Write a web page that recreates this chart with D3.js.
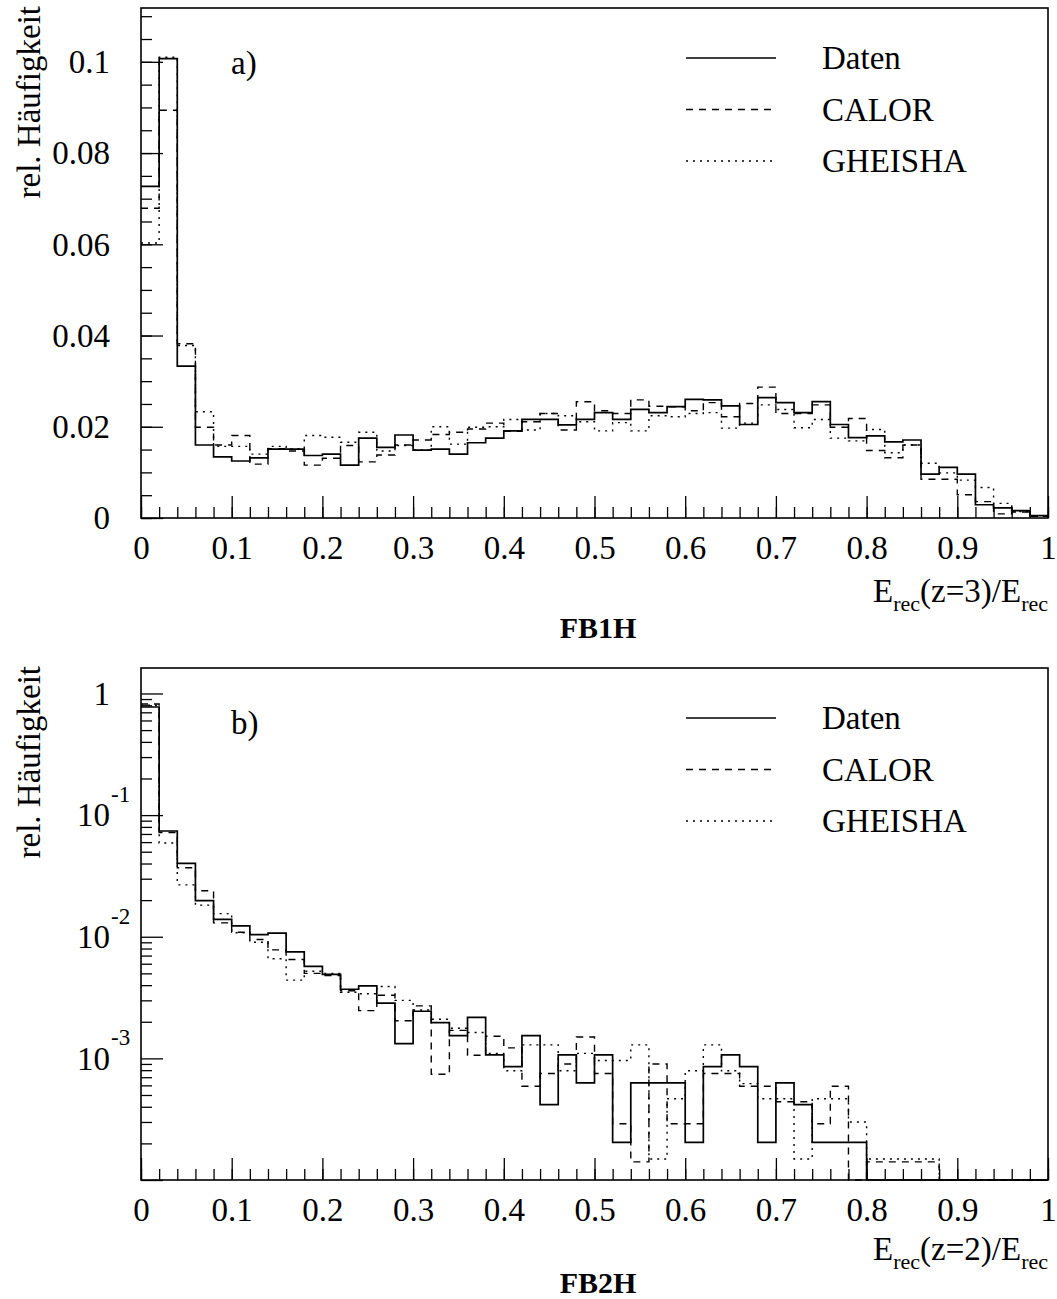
<!DOCTYPE html>
<html>
<head>
<meta charset="utf-8">
<script src="https://cdn.jsdelivr.net/npm/d3@7"></script>
<style>
  html, body { margin: 0; padding: 0; background: #fff; }
  svg { display: block; }
  text { font-family: "Liberation Serif", "DejaVu Serif", serif; fill: #000; }
</style>
</head>
<body>
<svg id="chart" width="1057" height="1299"></svg>
<script>
// ---------- data ----------
const binWidth = 0.02;
const nBins = 50;
const seriesNames = ["Daten", "CALOR", "GHEISHA"];
const xTickLabels = ["0", "0.1", "0.2", "0.3", "0.4", "0.5", "0.6", "0.7", "0.8", "0.9", "1"];
const yTickLabelsA = ["0", "0.02", "0.04", "0.06", "0.08", "0.1"];
const yTickLabelsB = [["1", ""], ["10", "-1"], ["10", "-2"], ["10", "-3"]];

// Panel a) FB1H : E_rec(z=3)/E_rec
const datenA = [0.0727, 0.1007, 0.0333, 0.0160, 0.0134, 0.0125, 0.0132, 0.0151, 0.0151, 0.0137,
                0.0140, 0.0116, 0.0175, 0.0155, 0.0182, 0.0149, 0.0151, 0.0140, 0.0165, 0.0175,
                0.0191, 0.0216, 0.0216, 0.0204, 0.0216, 0.0231, 0.0216, 0.0238, 0.0231, 0.0244,
                0.0260, 0.0259, 0.0246, 0.0205, 0.0264, 0.0253, 0.0231, 0.0255, 0.0205, 0.0176,
                0.0180, 0.0167, 0.0171, 0.0096, 0.0111, 0.0096, 0.0029, 0.0022, 0.0016, 0.0005];
const calorA = [0.0679, 0.0894, 0.0382, 0.0199, 0.0160, 0.0181, 0.0118, 0.0152, 0.0147, 0.0116,
                0.0131, 0.0159, 0.0123, 0.0138, 0.0160, 0.0171, 0.0183, 0.0188, 0.0195, 0.0208,
                0.0190, 0.0211, 0.0229, 0.0193, 0.0255, 0.0235, 0.0229, 0.0259, 0.0245, 0.0244,
                0.0235, 0.0253, 0.0222, 0.0251, 0.0287, 0.0229, 0.0229, 0.0248, 0.0199, 0.0218,
                0.0148, 0.0132, 0.0160, 0.0085, 0.0085, 0.0051, 0.0036, 0.0009, 0.0013, 0.0004];
const gheishaA = [0.0603, 0.1010, 0.0378, 0.0233, 0.0157, 0.0157, 0.0140, 0.0157, 0.0152, 0.0181,
                  0.0177, 0.0166, 0.0188, 0.0147, 0.0159, 0.0149, 0.0200, 0.0162, 0.0199, 0.0200,
                  0.0216, 0.0193, 0.0229, 0.0224, 0.0211, 0.0191, 0.0209, 0.0191, 0.0224, 0.0222,
                  0.0229, 0.0231, 0.0197, 0.0208, 0.0248, 0.0238, 0.0198, 0.0216, 0.0175, 0.0169,
                  0.0194, 0.0143, 0.0160, 0.0120, 0.0099, 0.0083, 0.0067, 0.0032, 0.0014, 0.0004];

// Panel b) FB2H : E_rec(z=2)/E_rec (log scale)
const datenB = [0.774, 0.074, 0.0401, 0.0198, 0.0139, 0.0123, 0.0104, 0.0107, 0.0075, 0.0057,
                0.0049, 0.0037, 0.00395, 0.00285, 0.00132, 0.00244, 0.00197, 0.00154, 0.00217, 0.00107,
                0.000855, 0.00154, 0.000416, 0.00107, 0.00063, 0.00107, 0.000204, 0.00063, 0.00063, 0.00063,
                0.000204, 0.000855, 0.00107, 0.000855, 0.000204, 0.00063, 0.000416, 0.000204, 0.000204, 0.000204,
                0, 0, 0, 0, 0, 0, 0, 0, 0, 0];
const calorB = [0.82, 0.072, 0.0369, 0.0239, 0.0130, 0.0109, 0.0095, 0.0078, 0.0065, 0.0050,
                0.0048, 0.0036, 0.00247, 0.0033, 0.00204, 0.0027, 0.00074, 0.0017, 0.00106, 0.00152,
                0.00122, 0.00059, 0.00075, 0.0009, 0.0015, 0.00075, 0.00029, 0.000141, 0.0009, 0.00029,
                0.00029, 0.00075, 0.00075, 0.00059, 0.00059, 0.00044, 0.00044, 0.00029, 0.00059, 0,
                0.000141, 0.000141, 0.000141, 0.000141, 0, 0, 0, 0, 0, 0];
const gheishaB = [0.80, 0.059, 0.0267, 0.0182, 0.0155, 0.0108, 0.0090, 0.0066, 0.0044, 0.0052,
                  0.0050, 0.0035, 0.0034, 0.0039, 0.0030, 0.0025, 0.0021, 0.00177, 0.00163, 0.0011,
                  0.00079, 0.00129, 0.00129, 0.00079, 0.0011, 0.00096, 0.00096, 0.00129, 0.000149, 0.000465,
                  0.00079, 0.00129, 0.00079, 0.00062, 0.000465, 0.000465, 0.000149, 0.000465, 0.000465, 0.0003,
                  0.000149, 0.000149, 0.000149, 0.000149, 0, 0, 0, 0, 0, 0];

// ---------- drawing ----------
const svg = d3.select("#chart");
const left = 141, right = 1048;
const FS = 33;
const styles = [
  { dash: null, width: 1.7 },
  { dash: "7,6", width: 1.4 },
  { dash: "2,5", width: 1.4 }
];

const x = d3.scaleLinear().domain([0, 1]).range([left, right]);

function stepPoints(values, floor) {
  const pts = [];
  values.forEach((v, i) => {
    const val = Math.max(v, floor);
    pts.push([i * binWidth, val]);
    pts.push([(i + 1) * binWidth, val]);
  });
  return pts;
}

function drawPanel(cfg) {
  const g = svg.append("g");
  const y = cfg.y;
  const [top, bottom] = [cfg.top, cfg.bottom];

  // histograms
  const line = d3.line().x(d => x(d[0])).y(d => y(d[1]));
  [2, 1, 0].forEach(idx => {
    g.append("path")
      .attr("d", line(stepPoints(cfg.series[idx], cfg.floor)))
      .attr("fill", "none")
      .attr("stroke", "#000")
      .attr("stroke-width", styles[idx].width)
      .attr("stroke-dasharray", styles[idx].dash);
  });

  // x ticks (inward)
  const xMinor = d3.range(0, 1.0001, 0.02);
  const xMajor = d3.range(0, 1.0001, 0.1);
  g.append("g").attr("transform", `translate(0,${bottom})`)
    .call(d3.axisBottom(x).tickValues(xMinor).tickSize(-11).tickFormat(""))
    .call(a => a.select(".domain").remove());
  g.append("g").attr("transform", `translate(0,${bottom})`)
    .call(d3.axisBottom(x).tickValues(xMajor).tickSize(-22).tickPadding(18)
      .tickFormat((d, i) => xTickLabels[i]))
    .call(a => a.select(".domain").remove())
    .call(a => a.selectAll("text").attr("font-size", FS).attr("font-family", "Liberation Serif"));

  // y ticks
  g.append("g").attr("transform", `translate(${left},0)`)
    .call(d3.axisLeft(y).tickValues(cfg.yMinor).tickSize(-11).tickFormat(""))
    .call(a => a.select(".domain").remove());
  g.append("g").attr("transform", `translate(${left},0)`)
    .call(d3.axisLeft(y).tickValues(cfg.yMajor).tickSize(-22).tickFormat(""))
    .call(a => a.select(".domain").remove());
  g.selectAll(".tick line").attr("stroke", "#000").attr("stroke-width", 1.3);
  g.selectAll(".tick text").attr("fill", "#000");

  cfg.yLabels(g, y);

  // frame
  g.append("rect").attr("x", left).attr("y", top)
    .attr("width", right - left).attr("height", bottom - top)
    .attr("fill", "none").attr("stroke", "#000").attr("stroke-width", 1.6);

  // panel tag
  g.append("text").attr("x", 231).attr("y", top + 66).attr("font-size", FS).text(cfg.tag);

  // legend
  seriesNames.forEach((name, i) => {
    const ly = top + 50 + i * 51.5;
    g.append("line").attr("x1", 686).attr("x2", 776).attr("y1", ly).attr("y2", ly)
      .attr("stroke", "#000").attr("stroke-width", styles[i].width)
      .attr("stroke-dasharray", styles[i].dash);
    g.append("text").attr("x", 822).attr("y", ly + 11).attr("font-size", FS).text(name);
  });

  // y title
  g.append("text")
    .attr("transform", `translate(40,${top - 2}) rotate(-90)`)
    .attr("text-anchor", "end").attr("font-size", FS)
    .text("rel. Häufigkeit");

  // x title
  const xt = g.append("text").attr("x", right).attr("y", cfg.xTitleY)
    .attr("text-anchor", "end").attr("font-size", FS);
  xt.append("tspan").text("E");
  xt.append("tspan").attr("font-size", 22).attr("dy", 9).text("rec");
  xt.append("tspan").attr("dy", -9).text(cfg.xTitleMid);
  xt.append("tspan").attr("font-size", 22).attr("dy", 9).text("rec");

  // histogram name
  g.append("text").attr("x", 598).attr("y", cfg.nameY)
    .attr("text-anchor", "middle").attr("font-size", 30).attr("font-weight", "bold")
    .text(cfg.name);
}

// Panel a
const yA = d3.scaleLinear().domain([0, 0.1118]).range([518, 8]);
drawPanel({
  top: 8, bottom: 518, y: yA, floor: 0, tag: "a)", name: "FB1H",
  xTitleMid: "(z=3)/E", xTitleY: 602, nameY: 638,
  series: [datenA, calorA, gheishaA],
  yMinor: d3.range(0, 0.1101, 0.005),
  yMajor: d3.range(0, 0.1001, 0.02),
  yLabels: (g, y) => {
    d3.range(0, 0.1001, 0.02).forEach((v, i) => {
      g.append("text").attr("x", 110).attr("y", y(v)).attr("dy", "0.34em")
        .attr("text-anchor", "end").attr("font-size", FS).text(yTickLabelsA[i]);
    });
  }
});

// Panel b
const yB = d3.scaleLog().domain([1e-4, 1.62]).range([1180, 668]);
const logMinor = [];
[-4, -3, -2, -1].forEach(d => { for (let k = 2; k <= 9; k++) logMinor.push(k * Math.pow(10, d)); });
drawPanel({
  top: 668, bottom: 1180, y: yB, floor: 1e-4, tag: "b)", name: "FB2H",
  xTitleMid: "(z=2)/E", xTitleY: 1260, nameY: 1293,
  series: [datenB, calorB, gheishaB],
  yMinor: logMinor,
  yMajor: [1e-4, 1e-3, 1e-2, 1e-1, 1],
  yLabels: (g, y) => {
    [1, 1e-1, 1e-2, 1e-3].forEach((v, i) => {
      const [base, exp] = yTickLabelsB[i];
      const t = g.append("text").attr("y", y(v)).attr("dy", "0.34em").attr("font-size", FS);
      if (exp) {
        t.attr("x", 110).attr("text-anchor", "end").text(base);
        g.append("text").attr("x", 111).attr("y", y(v) - 13).attr("font-size", 23).text(exp);
      } else {
        t.attr("x", 110).attr("text-anchor", "end").text(base);
      }
    });
  }
});
</script>
</body>
</html>
